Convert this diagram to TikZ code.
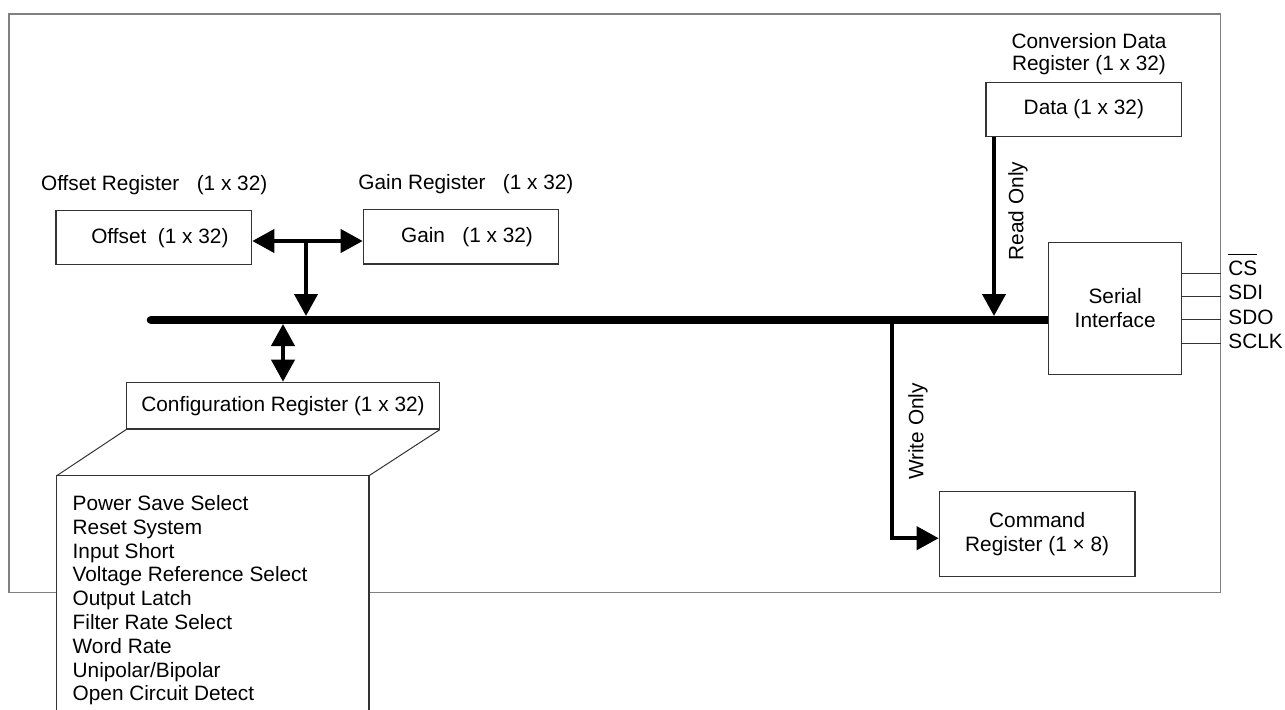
\documentclass[tikz,border=0pt]{standalone}
\usepackage{fontspec}
\setmainfont{Liberation Sans}
\usetikzlibrary{arrows.meta,calc,backgrounds}
\newcommand\olbar[1]{\setbox0\hbox{#1}\rlap{\raisebox{10.5pt}{\rule{\wd0}{0.5pt}}}\box0}
\begin{document}
\begin{tikzpicture}[x=0.5pt,y=-0.5pt,
  font=\fontsize{10.4}{11.9}\selectfont,
  box/.style={draw=black!80, line width=0.6pt, fill=white, inner sep=0pt, align=center},
  lbl/.style={inner sep=0pt},
  thick arrow/.style={line width=2pt, -{Triangle[length=11pt,width=11.5pt]}},
  dbl arrow/.style={line width=2pt, {Triangle[length=11pt,width=11.5pt]}-{Triangle[length=11pt,width=11.5pt]}},
  pin/.style={draw=black!80, line width=0.5pt}]
\useasboundingbox (0,0) rectangle (1285,709);

% outer frame
\node[draw=black!50, line width=0.75pt, minimum width=605.85pt, minimum height=289.35pt, inner sep=0pt] (frame) at (614.85,303.35) {};

% boxes
\node[box, minimum width=97.85pt, minimum height=27pt] (offset) at (153.85,237.7) {\hspace*{6pt}Offset\ \ (1 x 32)};
\node[box, minimum width=97.7pt, minimum height=27.35pt] (gain) at (461,236.65) {\hspace*{6pt}Gain\ \ \ (1 x 32)};
\node[box, minimum width=156.3pt, minimum height=23.35pt] (config) at (283,405.65) {Configuration Register (1 x 32)};
\node[box, minimum width=97.85pt, minimum height=27.2pt] (data) at (1083.85,109.5) {Data (1 x 32)};
\node[box, minimum width=66.5pt, minimum height=66pt] (serial) at (1115.2,308.3) {Serial\\Interface};
\node[box, minimum width=97.85pt, minimum height=42.5pt] (command) at (1037.15,534.2) {Command\\Register (1 × 8)};

% configuration detail box (open at the bottom)
\coordinate (ltl) at (56.7,475.7);
\coordinate (ltr) at (369,475.7);
\filldraw[draw=black!80, fill=white, line width=0.6pt] (56.7,712) -- (ltl) -- (ltr) -- (369,712);
\draw[draw=black!80, line width=0.5pt] (config.south west) -- (ltl);
\draw[draw=black!80, line width=0.5pt] (config.south east) -- (ltr);
\node[lbl, anchor=north west, align=left] (list) at (72.3,495) {Power Save Select\\Reset System\\Input Short\\Voltage Reference Select\\Output Latch\\Filter Rate Select\\Word Rate\\Unipolar/Bipolar\\Open Circuit Detect};

% labels
\node[lbl, anchor=base west] (offlbl) at (40.7,190) {Offset Register\ \ \ (1 x 32)};
\node[lbl, anchor=base west] (gainlbl) at (358,189) {Gain Register\ \ \ (1 x 32)};
\node[lbl, align=center, font=\fontsize{10.4}{10.9}\selectfont] (convlbl) at (1089,54) {Conversion Data\\Register (1 x 32)};
\node[lbl, rotate=90] (rolbl) at (1018,211) {Read Only};
\node[lbl, rotate=90] (wolbl) at (918,431.5) {Write Only};

% bus
\coordinate (busL) at (151,320);
\begin{scope}[on background layer]
  \draw[line width=4.3pt, line cap=round] (busL) -- ([xshift=3pt]serial.west |- busL);
\end{scope}

% arrows
\coordinate (og) at (306,241);
\coordinate (busT) at (306,316);
\draw[dbl arrow] (offset.east |- og) -- (gain.west |- og);
\draw[thick arrow] (og) -- (busT);
\coordinate (busB) at (283,324);
\draw[dbl arrow] (busB) -- (config.north);
\coordinate (ro) at (994,316);
\draw[thick arrow] (data.south -| ro) -- (ro);
\coordinate (wo) at (891.7,320);
\draw[thick arrow, line join=miter] (wo) |- ([yshift=-2pt]command.west);

% serial pins
\coordinate (p1) at (1200,273.3);
\coordinate (p2) at (1200,296);
\coordinate (p3) at (1200,319.3);
\coordinate (p4) at (1200,343.3);
\draw[pin] (serial.east |- p1) -- (frame.east |- p1);
\draw[pin] (serial.east |- p2) -- (frame.east |- p2);
\draw[pin] (serial.east |- p3) -- (frame.east |- p3);
\draw[pin] (serial.east |- p4) -- (frame.east |- p4);
\node[lbl, anchor=base west] (cs) at (1228,275.5) {\olbar{CS}};
\node[lbl, anchor=base west] (sdi) at (1228,299.5) {SDI};
\node[lbl, anchor=base west] (sdo) at (1228,324) {SDO};
\node[lbl, anchor=base west] (sclk) at (1228,348) {SCLK};
\end{tikzpicture}
\end{document}
